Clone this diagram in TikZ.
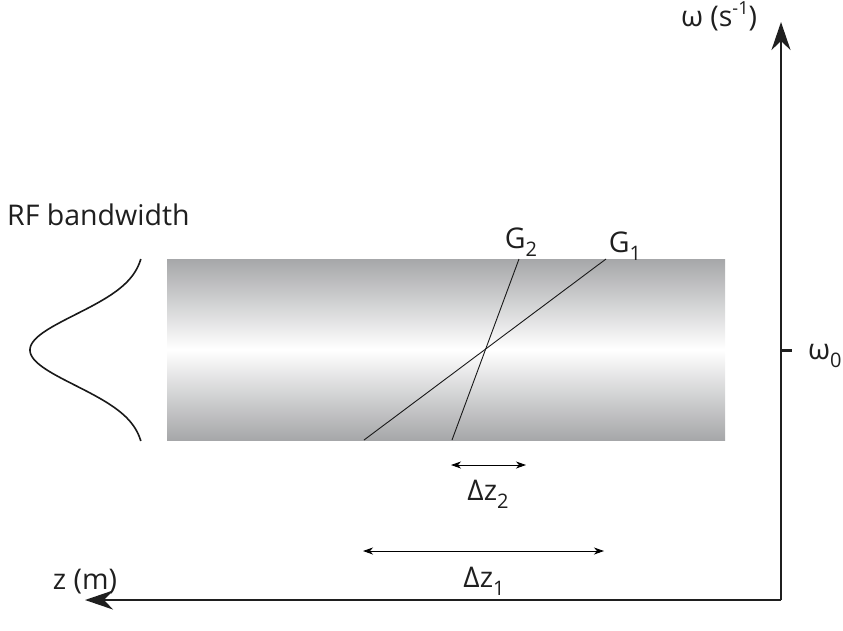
\documentclass[tikz,border=0pt]{standalone}
\usepackage{fontspec}
\setmainfont{Open Sans}
\usetikzlibrary{arrows.meta}
\newcommand{\mysub}[1]{\raisebox{-0.3em}{\fontsize{20}{21}\selectfont #1}}
\newcommand{\mysup}[1]{\raisebox{0.42em}{\fontsize{18}{19}\selectfont #1}}
\tikzset{
  axisline/.style={line width=2.6pt, color=black!88},
  bigtip/.style={-{Stealth[length=28pt,width=19pt,inset=9pt]}},
  thinline/.style={line width=0.9pt, color=black!90},
  dimarrow/.style={line width=0.9pt, {Stealth[length=10pt,width=7pt,inset=3pt]}-{Stealth[length=10pt,width=7pt,inset=3pt]}},
  lbl/.style={inner sep=0pt, font=\fontsize{28.5}{31}\selectfont, text=black!88},
}
\definecolor{bargray}{HTML}{A6A7A9}
\begin{document}
\begin{tikzpicture}[x=1pt,y=-1pt]
\useasboundingbox (0,0) rectangle (843,630);
% bar
\shade[top color=bargray, bottom color=bargray, middle color=white] (167,259) rectangle (725,440);
% axes
\coordinate (O) at (781,600);
\coordinate (ytop) at (781,22);
\coordinate (xleft) at (85,600);
\coordinate (tickA) at (781,350);
\coordinate (tickB) at (792,350);
\draw[axisline, bigtip] (O) -- (ytop);
\draw[axisline, bigtip] (O) -- (xleft);
\draw[line width=3pt, color=black!88] (tickA) -- (tickB);
% gradient lines
\coordinate (g2a) at (452,440);
\coordinate (g2b) at (519,259);
\coordinate (g1a) at (364,440);
\coordinate (g1b) at (606,259);
\draw[thinline] (g2a) -- (g2b);
\draw[thinline] (g1a) -- (g1b);
% dimension arrows
\coordinate (d2a) at (451,465);
\coordinate (d2b) at (526,465);
\coordinate (d1a) at (363,551);
\coordinate (d1b) at (604,551);
\draw[dimarrow] (d2a) -- (d2b);
\draw[dimarrow] (d1a) -- (d1b);
% gaussian
\draw[line width=1.6pt, color=black!90, domain=259:441, samples=120, smooth, variable=\t]
  plot ({145-115*exp(-((\t-350)*(\t-350))/2500)}, {\t});
% labels
\node[lbl, anchor=base west] (rf) at (7,225) {RF bandwidth};
\node[lbl, anchor=base] (g2) at (521,248) {G\mysub{2}};
\node[lbl, anchor=base] (g1) at (625,252) {G\mysub{1}};
\node[lbl, anchor=base] (dz2) at (488,500) {Δz\mysub{2}};
\node[lbl, anchor=base] (dz1) at (484,587) {Δz\mysub{1}};
\node[lbl, anchor=base] (zm) at (85,589) {z (m)};
\node[lbl, anchor=base] (om) at (719,26) {ω (s\mysup{-1})};
\node[lbl, anchor=base west] (om0) at (808,359) {ω\mysub{0}};
\end{tikzpicture}
\end{document}
